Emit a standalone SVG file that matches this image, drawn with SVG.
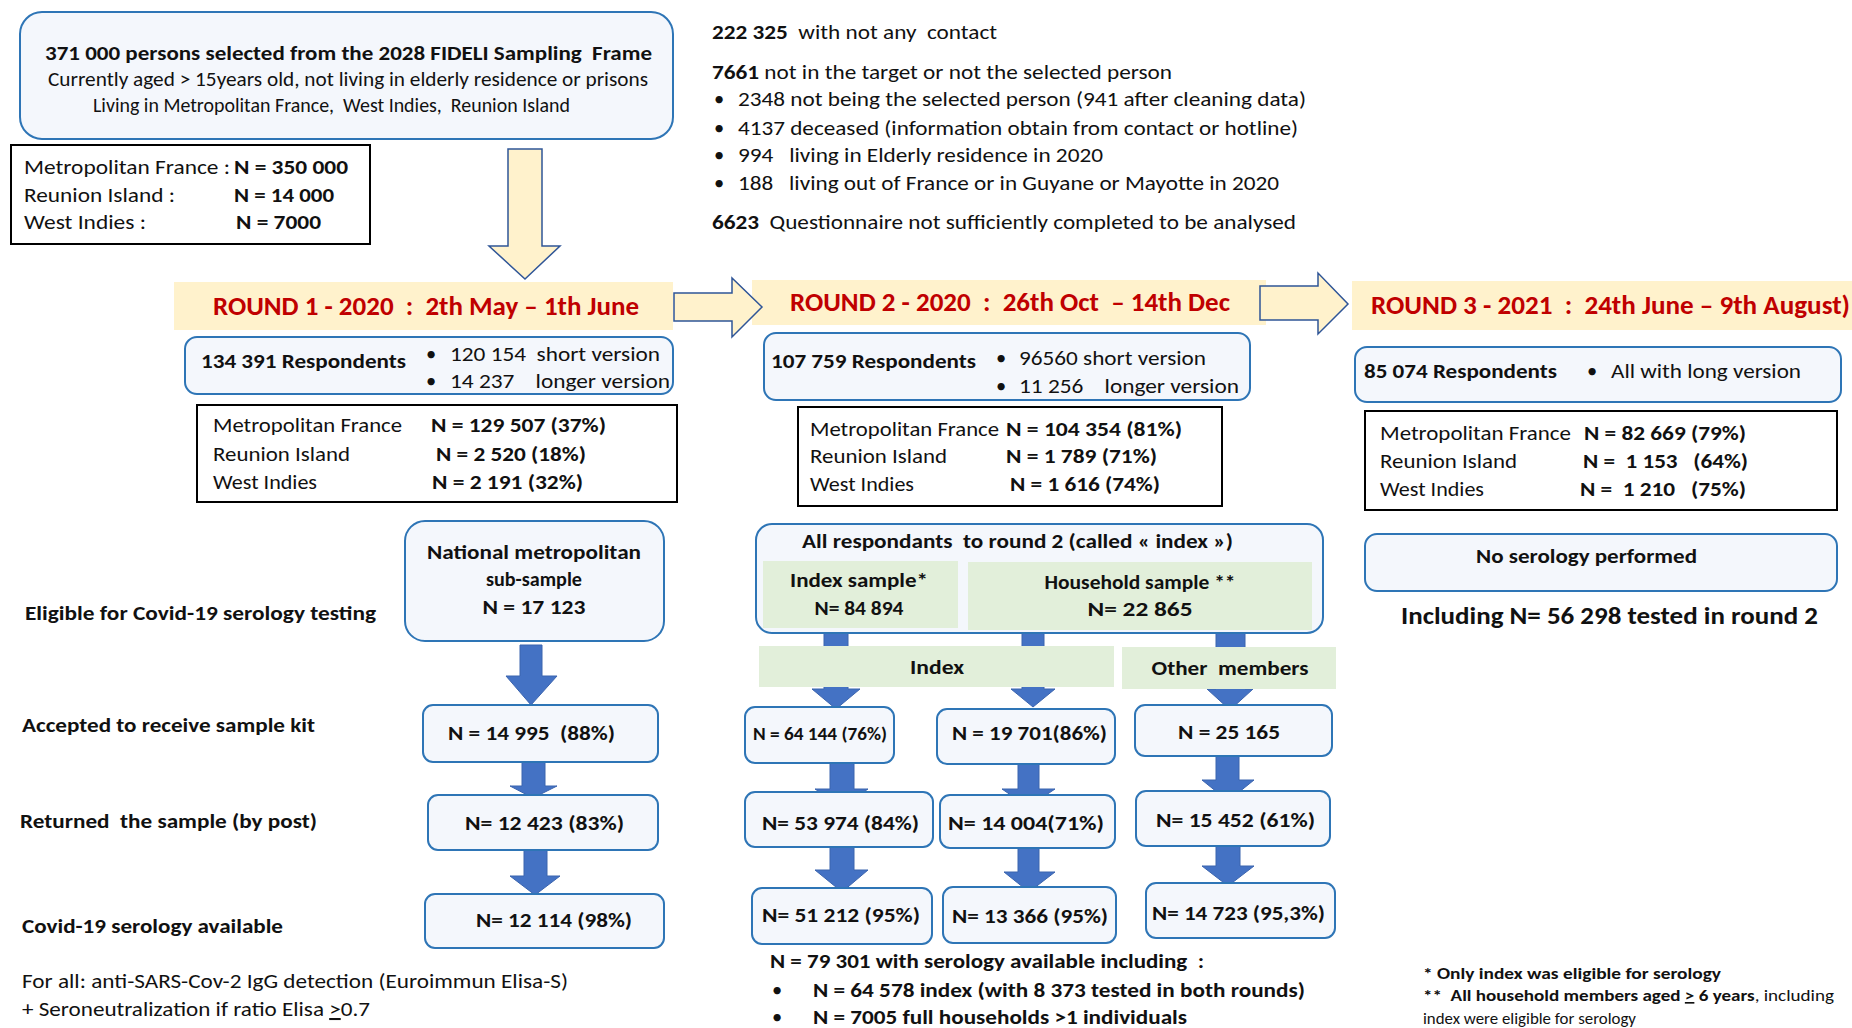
<svg xmlns="http://www.w3.org/2000/svg" width="1852" height="1028" viewBox="0 0 1852 1028">
<style>
text{font-family:Carlito,Lato,"Open Sans",sans-serif;font-size:20.5px;fill:#111}
.b{font-weight:bold}
.m{text-anchor:middle}
.box{fill:#F4F7FC;stroke:#2E75B6;stroke-width:2}
.kbox{fill:#fff;stroke:#000;stroke-width:2}
.arr{fill:#4472C4;stroke:#3B64AE;stroke-width:1}
.yarr{fill:#FFF2CC;stroke:#2F5597;stroke-width:1.5}
.band{fill:#FFF2CC}
.green{fill:#E2EFDA}
.red{fill:#C00000;font-weight:bold;font-size:25.5px}
.fn{font-size:16.5px}
.s19{font-size:19.5px}
</style>
<rect width="1852" height="1028" fill="#fff"/>

<g id="frame">
<rect class="box" x="20" y="12" width="653" height="127" rx="22"/>
<text class="b" x="45" y="60" textLength="607" lengthAdjust="spacingAndGlyphs" xml:space="preserve">371 000 persons selected from the 2028 FIDELI Sampling  Frame</text>
<text class="s19" x="48" y="86" textLength="600" lengthAdjust="spacingAndGlyphs">Currently aged &gt; 15years old, not living in elderly residence or prisons</text>
<text class="s19" x="93" y="112" textLength="477" lengthAdjust="spacingAndGlyphs" xml:space="preserve">Living in Metropolitan France,  West Indies,  Reunion Island</text>
</g>

<g id="frame-regions">
<rect class="kbox" x="11" y="145" width="359" height="99"/>
<text x="24" y="174" textLength="206" lengthAdjust="spacingAndGlyphs">Metropolitan France :</text>
<text class="b" x="234" y="174" textLength="114" lengthAdjust="spacingAndGlyphs">N = 350 000</text>
<text x="24" y="202" textLength="151" lengthAdjust="spacingAndGlyphs">Reunion Island :</text>
<text class="b" x="234" y="202" textLength="100" lengthAdjust="spacingAndGlyphs">N = 14 000</text>
<text x="24" y="229" textLength="122" lengthAdjust="spacingAndGlyphs">West Indies :</text>
<text class="b" x="236" y="229" textLength="85" lengthAdjust="spacingAndGlyphs">N = 7000</text>
</g>

<g id="exclusions">
<text x="712" y="39" textLength="285" lengthAdjust="spacingAndGlyphs" xml:space="preserve"><tspan class="b">222 325</tspan>  with not any  contact</text>
<text x="712" y="79" textLength="460" lengthAdjust="spacingAndGlyphs"><tspan class="b">7661</tspan> not in the target or not the selected person</text>
<text x="714" y="106">•</text>
<text x="738" y="106" textLength="568" lengthAdjust="spacingAndGlyphs">2348 not being the selected person (941 after cleaning data)</text>
<text x="714" y="135">•</text>
<text x="738" y="135" textLength="560" lengthAdjust="spacingAndGlyphs">4137 deceased (information obtain from contact or hotline)</text>
<text x="714" y="162">•</text>
<text x="738" y="162" textLength="365" lengthAdjust="spacingAndGlyphs" xml:space="preserve">994   living in Elderly residence in 2020</text>
<text x="714" y="190">•</text>
<text x="738" y="190" textLength="541" lengthAdjust="spacingAndGlyphs" xml:space="preserve">188   living out of France or in Guyane or Mayotte in 2020</text>
<text x="712" y="229" textLength="584" lengthAdjust="spacingAndGlyphs" xml:space="preserve"><tspan class="b">6623</tspan>  Questionnaire not sufficiently completed to be analysed</text>
</g>

<g id="round1-banner">
<rect class="band" x="174" y="282" width="499" height="48"/>
<text class="red" x="213" y="315" textLength="426" lengthAdjust="spacingAndGlyphs" xml:space="preserve">ROUND 1 - 2020  :  2th May – 1th June</text>
</g>
<g id="round2-banner">
<rect class="band" x="752" y="280" width="514" height="45"/>
<text class="red" x="790" y="311" textLength="440" lengthAdjust="spacingAndGlyphs" xml:space="preserve">ROUND 2 - 2020  :  26th Oct  – 14th Dec</text>
</g>
<g id="round3-banner">
<rect class="band" x="1352" y="281" width="500" height="49"/>
<text class="red" x="1371" y="314" textLength="479" lengthAdjust="spacingAndGlyphs" xml:space="preserve">ROUND 3 - 2021  :  24th June – 9th August)</text>
</g>

<g id="connectors">
<polygon class="yarr" points="508,149 542,149 542,246 560,246 525,279 489,246 508,246"/>
<polygon class="yarr" points="674,293 732,293 732,278 762,307 732,337 732,321 674,321"/>
<polygon class="yarr" points="1260,286 1318,286 1318,273 1348,304 1318,334 1318,320 1260,320"/>
<polygon class="arr" points="520,645 542,645 542,676 557,676 531,705 506,676 520,676"/>
<polygon class="arr" points="522,761 545,761 545,786 557,786 533,798 510,786 522,786"/>
<polygon class="arr" points="524,850 547,850 547,876 560,876 535,895 510,876 524,876"/>
<polygon class="arr" points="824,633 848,633 848,689 860,689 836,709 812,689 824,689"/>
<polygon class="arr" points="1022,633 1044,633 1044,689 1055,689 1033,707 1011,689 1022,689"/>
<polygon class="arr" points="1216,633 1245,633 1245,689 1253,689 1230,710 1207,689 1216,689"/>
<polygon class="arr" points="830,763 854,763 854,789 868,789 842,807 815,789 830,789"/>
<polygon class="arr" points="1018,764 1039,764 1039,789 1055,789 1028,807 1002,789 1018,789"/>
<polygon class="arr" points="1216,756 1239,756 1239,780 1254,780 1228,801 1202,780 1216,780"/>
<polygon class="arr" points="830,847 854,847 854,870 868,870 842,892 815,870 830,870"/>
<polygon class="arr" points="1018,848 1039,848 1039,872 1055,872 1029,892 1004,872 1018,872"/>
<polygon class="arr" points="1216,846 1240,846 1240,866 1254,866 1228,886 1202,866 1216,866"/>
</g>

<g id="round1-respondents">
<rect class="box" x="185" y="337" width="488" height="57" rx="12"/>
<text class="b" x="201" y="368" textLength="205" lengthAdjust="spacingAndGlyphs">134 391 Respondents</text>
<text x="426" y="361">•</text>
<text x="450" y="361" textLength="210" lengthAdjust="spacingAndGlyphs" xml:space="preserve">120 154  short version</text>
<text x="426" y="388">•</text>
<text x="450" y="388" textLength="220" lengthAdjust="spacingAndGlyphs" xml:space="preserve">14 237    longer version</text>
</g>
<g id="round1-regions">
<rect class="kbox" x="197" y="405" width="480" height="97"/>
<text x="213" y="432" textLength="189" lengthAdjust="spacingAndGlyphs">Metropolitan France</text>
<text class="b" x="431" y="432" textLength="175" lengthAdjust="spacingAndGlyphs">N = 129 507 (37%)</text>
<text x="213" y="461" textLength="137" lengthAdjust="spacingAndGlyphs">Reunion Island</text>
<text class="b" x="436" y="461" textLength="150" lengthAdjust="spacingAndGlyphs">N = 2 520 (18%)</text>
<text x="213" y="489" textLength="104" lengthAdjust="spacingAndGlyphs">West Indies</text>
<text class="b" x="432" y="489" textLength="151" lengthAdjust="spacingAndGlyphs">N = 2 191 (32%)</text>
</g>

<g id="round2-respondents">
<rect class="box" x="764" y="333" width="486" height="67" rx="12"/>
<text class="b" x="771" y="368" textLength="205" lengthAdjust="spacingAndGlyphs">107 759 Respondents</text>
<text x="996" y="365">•</text>
<text x="1019" y="365" textLength="187" lengthAdjust="spacingAndGlyphs">96560 short version</text>
<text x="996" y="393">•</text>
<text x="1019" y="393" textLength="220" lengthAdjust="spacingAndGlyphs" xml:space="preserve">11 256    longer version</text>
</g>
<g id="round2-regions">
<rect class="kbox" x="798" y="407" width="424" height="99"/>
<text x="810" y="436" textLength="189" lengthAdjust="spacingAndGlyphs">Metropolitan France</text>
<text class="b" x="1006" y="436" textLength="176" lengthAdjust="spacingAndGlyphs">N = 104 354 (81%)</text>
<text x="810" y="463" textLength="137" lengthAdjust="spacingAndGlyphs">Reunion Island</text>
<text class="b" x="1006" y="463" textLength="151" lengthAdjust="spacingAndGlyphs">N = 1 789 (71%)</text>
<text x="810" y="491" textLength="104" lengthAdjust="spacingAndGlyphs">West Indies</text>
<text class="b" x="1010" y="491" textLength="150" lengthAdjust="spacingAndGlyphs">N = 1 616 (74%)</text>
</g>

<g id="round3-respondents">
<rect class="box" x="1355" y="347" width="486" height="55" rx="12"/>
<text class="b" x="1364" y="378" textLength="193" lengthAdjust="spacingAndGlyphs">85 074 Respondents</text>
<text x="1587" y="378">•</text>
<text x="1611" y="378" textLength="190" lengthAdjust="spacingAndGlyphs">All with long version</text>
</g>
<g id="round3-regions">
<rect class="kbox" x="1365" y="411" width="472" height="99"/>
<text x="1380" y="440" textLength="191" lengthAdjust="spacingAndGlyphs">Metropolitan France</text>
<text class="b" x="1584" y="440" textLength="162" lengthAdjust="spacingAndGlyphs">N = 82 669 (79%)</text>
<text x="1380" y="468" textLength="137" lengthAdjust="spacingAndGlyphs">Reunion Island</text>
<text class="b" x="1583" y="468" textLength="165" lengthAdjust="spacingAndGlyphs" xml:space="preserve">N =  1 153   (64%)</text>
<text x="1380" y="496" textLength="104" lengthAdjust="spacingAndGlyphs">West Indies</text>
<text class="b" x="1580" y="496" textLength="166" lengthAdjust="spacingAndGlyphs" xml:space="preserve">N =  1 210   (75%)</text>
</g>
<g id="round3-serology">
<rect class="box" x="1365" y="534" width="472" height="57" rx="12"/>
<text class="b" x="1476" y="563" textLength="221" lengthAdjust="spacingAndGlyphs">No serology performed</text>
<text class="b" x="1401" y="624" textLength="417" lengthAdjust="spacingAndGlyphs" style="font-size:25px">Including N= 56 298 tested in round 2</text>
</g>

<g id="row-labels">
<text class="b" x="25" y="620" textLength="351" lengthAdjust="spacingAndGlyphs">Eligible for Covid-19 serology testing</text>
<text class="b" x="22" y="732" textLength="293" lengthAdjust="spacingAndGlyphs">Accepted to receive sample kit</text>
<text class="b" x="20" y="828" textLength="297" lengthAdjust="spacingAndGlyphs" xml:space="preserve">Returned  the sample (by post)</text>
<text class="b" x="22" y="933" textLength="261" lengthAdjust="spacingAndGlyphs">Covid-19 serology available</text>
<text x="22" y="988" textLength="546" lengthAdjust="spacingAndGlyphs">For all: anti-SARS-Cov-2 IgG detection (Euroimmun Elisa-S)</text>
<text x="22" y="1016" textLength="348" lengthAdjust="spacingAndGlyphs">+ Seroneutralization if ratio Elisa <tspan text-decoration="underline">&gt;</tspan>0.7</text>
</g>

<g id="r1-national">
<rect class="box" x="405" y="521" width="259" height="120" rx="20"/>
<text class="b m" x="534" y="559" textLength="214" lengthAdjust="spacingAndGlyphs">National metropolitan</text>
<text class="b m" x="534" y="586" textLength="96" lengthAdjust="spacingAndGlyphs">sub-sample</text>
<text class="b m" x="534" y="614" textLength="103" lengthAdjust="spacingAndGlyphs">N = 17 123</text>
</g>
<g id="r1-kit">
<rect class="box" x="423" y="705" width="235" height="57" rx="10"/>
<text class="b" x="448" y="740" textLength="167" lengthAdjust="spacingAndGlyphs" xml:space="preserve">N = 14 995  (88%)</text>
</g>
<g id="r1-returned">
<rect class="box" x="428" y="795" width="230" height="55" rx="10"/>
<text class="b" x="465" y="830" textLength="159" lengthAdjust="spacingAndGlyphs">N= 12 423 (83%)</text>
</g>
<g id="r1-serology">
<rect class="box" x="425" y="894" width="239" height="54" rx="10"/>
<text class="b" x="476" y="927" textLength="156" lengthAdjust="spacingAndGlyphs">N= 12 114 (98%)</text>
</g>

<g id="r2-all">
<rect class="box" x="756" y="524" width="567" height="109" rx="16"/>
<text class="b" x="802" y="548" textLength="431" lengthAdjust="spacingAndGlyphs" xml:space="preserve">All respondants  to round 2 (called « index »)</text>
<rect class="green" x="763" y="561" width="195" height="67"/>
<text class="b m" x="859" y="587" textLength="138" lengthAdjust="spacingAndGlyphs">Index sample*</text>
<text class="b m" x="859" y="615" textLength="89" lengthAdjust="spacingAndGlyphs">N= 84 894</text>
<rect class="green" x="968" y="562" width="344" height="68"/>
<text class="b m" x="1140" y="589" textLength="191" lengthAdjust="spacingAndGlyphs">Household sample **</text>
<text class="b m" x="1140" y="616" textLength="105" lengthAdjust="spacingAndGlyphs">N= 22 865</text>
</g>
<g id="band-index">
<rect class="green" x="759" y="646" width="355" height="41"/>
<text class="b m" x="937" y="674" textLength="54" lengthAdjust="spacingAndGlyphs">Index</text>
</g>
<g id="band-other">
<rect class="green" x="1122" y="647" width="214" height="42"/>
<text class="b m" x="1230" y="675" textLength="157" lengthAdjust="spacingAndGlyphs" xml:space="preserve">Other  members</text>
</g>

<g id="r2-a1"><rect class="box" x="745" y="707" width="149" height="56" rx="10"/>
<text class="b" x="753" y="740" textLength="134" lengthAdjust="spacingAndGlyphs" style="font-size:19px">N = 64 144 (76%)</text></g>
<g id="r2-b1"><rect class="box" x="937" y="709" width="178" height="55" rx="10"/>
<text class="b" x="952" y="740" textLength="155" lengthAdjust="spacingAndGlyphs">N = 19 701(86%)</text></g>
<g id="r2-c1"><rect class="box" x="1135" y="705" width="197" height="51" rx="10"/>
<text class="b m" x="1229" y="739" textLength="102" lengthAdjust="spacingAndGlyphs">N = 25 165</text></g>

<g id="r2-a2"><rect class="box" x="745" y="792" width="188" height="55" rx="10"/>
<text class="b" x="762" y="830" textLength="157" lengthAdjust="spacingAndGlyphs">N= 53 974 (84%)</text></g>
<g id="r2-b2"><rect class="box" x="940" y="795" width="175" height="53" rx="10"/>
<text class="b" x="948" y="830" textLength="156" lengthAdjust="spacingAndGlyphs">N= 14 004(71%)</text></g>
<g id="r2-c2"><rect class="box" x="1136" y="791" width="194" height="55" rx="10"/>
<text class="b" x="1156" y="827" textLength="159" lengthAdjust="spacingAndGlyphs">N= 15 452 (61%)</text></g>

<g id="r2-a3"><rect class="box" x="752" y="888" width="180" height="56" rx="10"/>
<text class="b" x="762" y="922" textLength="158" lengthAdjust="spacingAndGlyphs">N= 51 212 (95%)</text></g>
<g id="r2-b3"><rect class="box" x="943" y="887" width="173" height="56" rx="10"/>
<text class="b" x="952" y="923" textLength="156" lengthAdjust="spacingAndGlyphs">N= 13 366 (95%)</text></g>
<g id="r2-c3"><rect class="box" x="1146" y="883" width="189" height="55" rx="10"/>
<text class="b" x="1152" y="920" textLength="173" lengthAdjust="spacingAndGlyphs">N= 14 723 (95,3%)</text></g>

<g id="r2-summary">
<text class="b" x="770" y="968" textLength="434" lengthAdjust="spacingAndGlyphs" xml:space="preserve">N = 79 301 with serology available including  :</text>
<text x="772" y="997">•</text>
<text class="b" x="813" y="997" textLength="492" lengthAdjust="spacingAndGlyphs">N = 64 578 index (with 8 373 tested in both rounds)</text>
<text x="772" y="1024">•</text>
<text class="b" x="813" y="1024" textLength="374" lengthAdjust="spacingAndGlyphs">N = 7005 full households &gt;1 individuals</text>
</g>

<g id="footnotes">
<text class="b fn" x="1423" y="979" textLength="298" lengthAdjust="spacingAndGlyphs">* Only index was eligible for serology</text>
<text class="fn" x="1423" y="1001" textLength="411" lengthAdjust="spacingAndGlyphs" xml:space="preserve"><tspan class="b">**  All household members aged </tspan><tspan class="b" text-decoration="underline">&gt;</tspan><tspan class="b"> 6 years</tspan>, including</text>
<text class="fn" x="1423" y="1024" textLength="213" lengthAdjust="spacingAndGlyphs">index were eligible for serology</text>
</g>
</svg>
